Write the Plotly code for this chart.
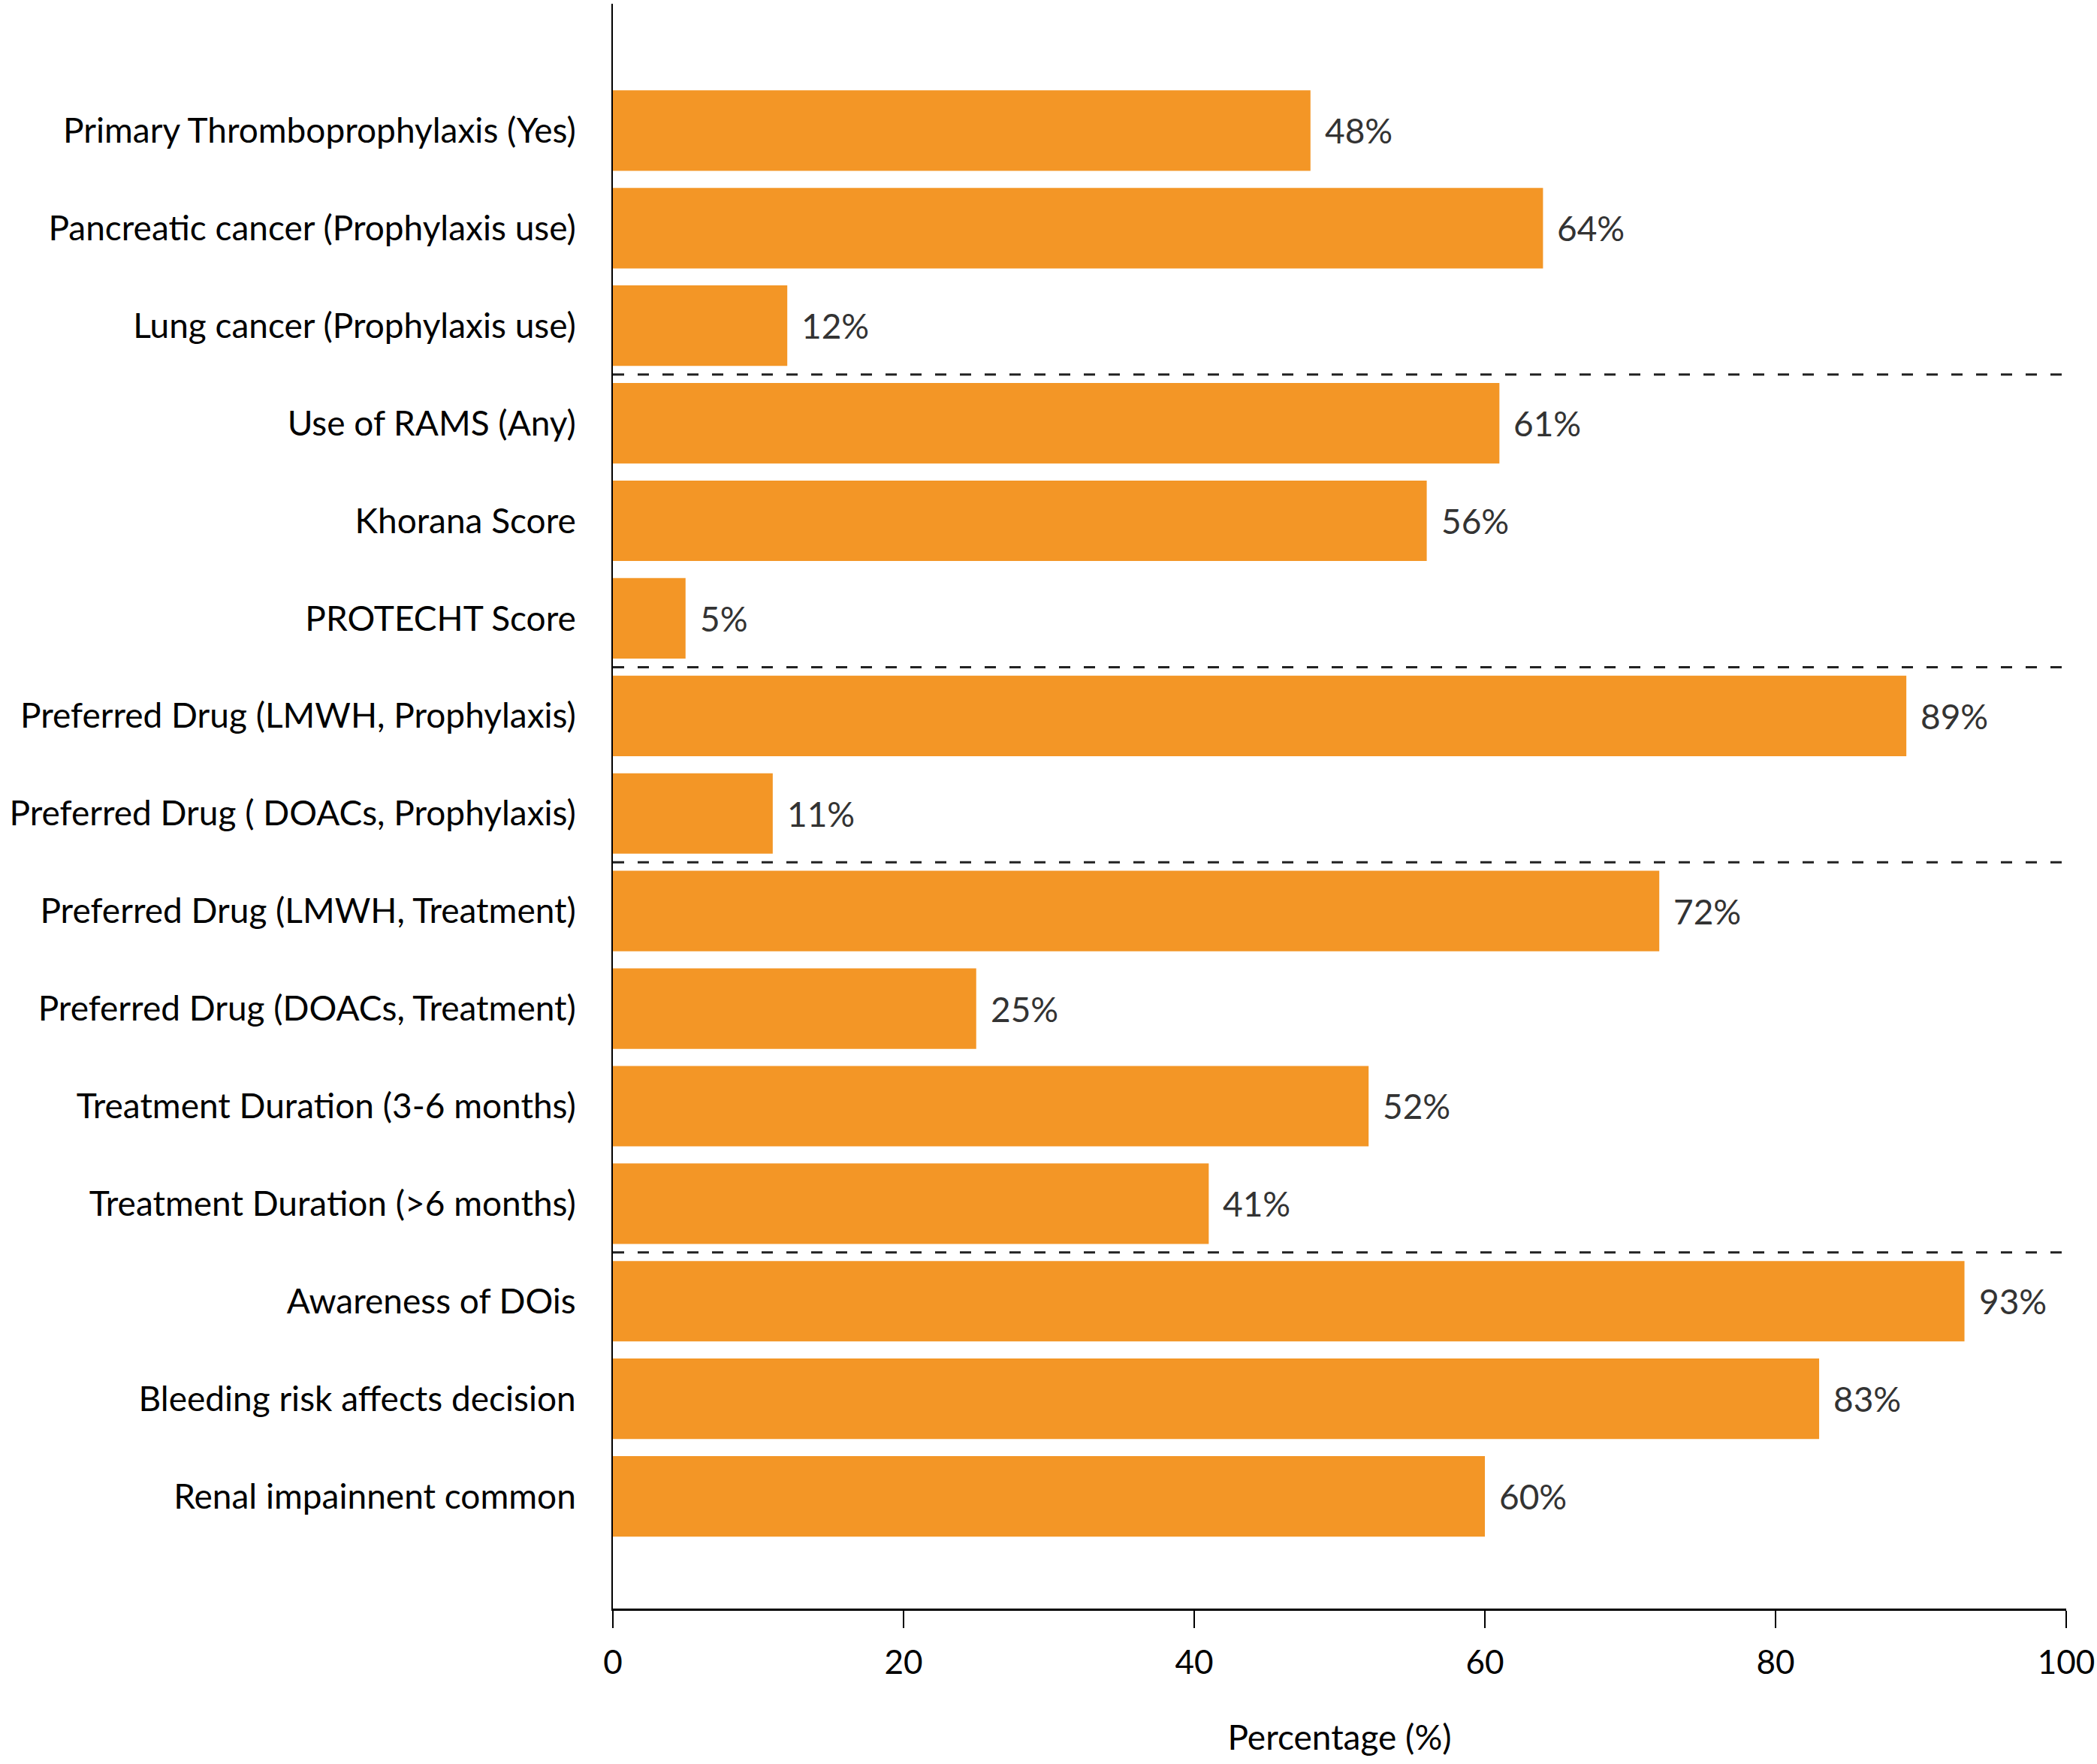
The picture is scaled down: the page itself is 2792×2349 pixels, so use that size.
import plotly.graph_objects as go

# Survey items (top to bottom) and share of respondents (%)
items = [
    "Primary Thromboprophylaxis (Yes)",
    "Pancreatic cancer (Prophylaxis use)",
    "Lung cancer (Prophylaxis use)",
    "Use of RAMS (Any)",
    "Khorana Score",
    "PROTECHT Score",
    "Preferred Drug (LMWH, Prophylaxis)",
    "Preferred Drug ( DOACs, Prophylaxis)",
    "Preferred Drug (LMWH, Treatment)",
    "Preferred Drug (DOACs, Treatment)",
    "Treatment Duration (3-6 months)",
    "Treatment Duration (>6 months)",
    "Awareness of DOis",
    "Bleeding risk affects decision",
    "Renal impainnent common",
]
percent = [48, 64, 12, 61, 56, 5, 89, 11, 72, 25, 52, 41, 93, 83, 60]

# index of the last item in each group (a dashed divider follows it)
group_ends = [2, 5, 7, 11]

x_ticks = [0, 20, 40, 60, 80, 100]

FONT = "Myriad Pro, Lato, sans-serif"
ORANGE = "#F39626"

fig = go.Figure()
fig.add_trace(go.Bar(
    x=percent, y=items, orientation="h",
    marker=dict(color=ORANGE, line=dict(width=0)),
    hoverinfo="skip",
))

# value labels to the right of each bar
for item, p in zip(items, percent):
    fig.add_annotation(x=p, y=item, text=f"{p}%", showarrow=False,
                       xanchor="left", xshift=17,
                       font=dict(family=FONT, size=46, color="#333333"))

# dashed group dividers
for g in group_ends:
    fig.add_shape(type="line", xref="x", yref="y",
                  x0=0, x1=100, y0=g + 0.5, y1=g + 0.5,
                  line=dict(color="#222222", width=3, dash="15px,18px"))

fig.update_layout(
    width=2792, height=2349,
    margin=dict(l=816, r=41, t=5, b=207),
    plot_bgcolor="white", paper_bgcolor="white",
    showlegend=False,
    bargap=0.175,
    font=dict(family=FONT, size=46, color="black"),
)

fig.update_xaxes(
    range=[0, 100], tickvals=x_ticks,
    showgrid=False, zeroline=False, automargin=False,
    showline=True, linecolor="black", linewidth=3,
    ticks="outside", ticklen=23, tickwidth=2, tickcolor="black",
    ticklabelstandoff=8, ticklabeloverflow="allow",
    tickfont=dict(family=FONT, size=44, color="black"),
    title=dict(text="Percentage (%)", standoff=62,
               font=dict(family=FONT, size=46, color="black")),
)

fig.update_yaxes(
    categoryorder="array", categoryarray=items,
    range=[len(items) - 1 + 1.15, -1.3],
    showgrid=False, zeroline=False, automargin=False,
    showline=True, linecolor="black", linewidth=2,
    ticks="", ticklabelstandoff=38,
    tickfont=dict(family=FONT, size=46, color="black"),
)

# drop the browser's default 8px body margin so the figure fills the window exactly
fig.write_html("out.html", config={"displayModeBar": False},
               post_script="document.body.style.margin='0';")
